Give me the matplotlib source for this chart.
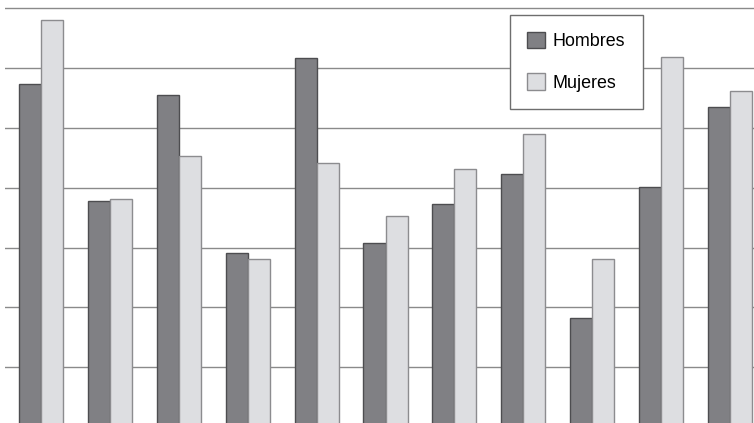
import numpy as np
import matplotlib
matplotlib.use('Agg')
import matplotlib.pyplot as plt

plt.rcParams['font.family'] = ['Liberation Sans', 'DejaVu Sans']

# Values (one unit = one gridline step)
groups = list(range(1, 12))
hombres = [5.74, 3.78, 5.55, 2.91, 6.17, 3.08, 3.73, 4.23, 1.82, 4.01, 5.35]
mujeres = [6.81, 3.81, 4.53, 2.81, 4.41, 3.53, 4.31, 4.90, 2.81, 6.19, 5.62]

fig = plt.figure(figsize=(7.54, 4.23), dpi=100)
ax = fig.add_axes([5 / 754, -4 / 423, 749 / 754, 427 / 423])

x = np.arange(len(groups))
w = 0.32
ax.bar(x - w / 2, hombres, w, color='#808084', edgecolor='#4d4d50',
       linewidth=1.0, label='Hombres', zorder=3)
ax.bar(x + w / 2, mujeres, w, color='#dddee1', edgecolor='#8c8c8f',
       linewidth=1.0, label='Mujeres', zorder=3)

ax.set_xlim(-0.5225, 10.348)
ax.set_ylim(0, 7.14)
ax.set_yticks(range(1, 8))
ax.yaxis.grid(True, color='#8a8a8a', linewidth=1.0, zorder=0)
ax.tick_params(left=False, bottom=False, labelleft=False, labelbottom=False)
for s in ax.spines.values():
    s.set_visible(False)

leg = ax.legend(loc='upper left', bbox_to_anchor=(510 / 754, 1 - 15 / 423),
                bbox_transform=fig.transFigure, borderaxespad=0,
                fontsize=12.9, fancybox=False, framealpha=1,
                edgecolor='#6e6e6e', handlelength=1.0, handleheight=1.0,
                handletextpad=0.45, labelspacing=1.3, borderpad=0.95)
leg.get_frame().set_linewidth(1.0)

fig.savefig('out.png', dpi=100)
